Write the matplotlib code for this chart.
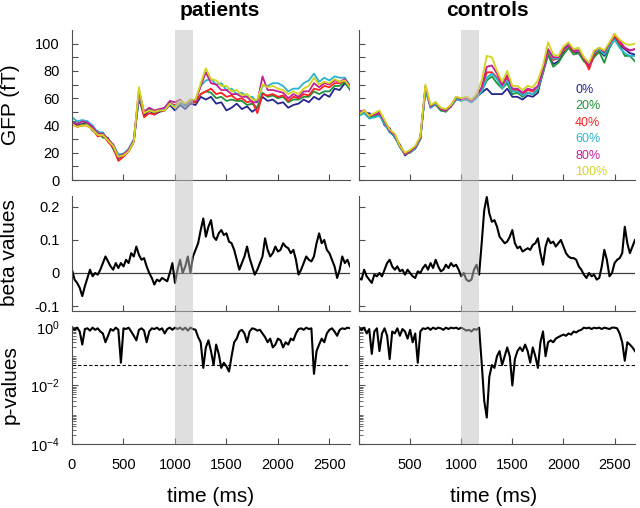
import matplotlib
matplotlib.use('Agg')
import matplotlib.pyplot as plt
import numpy as np
from matplotlib.patches import Rectangle
from matplotlib.transforms import blended_transform_factory
from matplotlib.ticker import FixedLocator, LogLocator, NullFormatter

plt.rcParams['font.family'] = ['Liberation Sans', 'DejaVu Sans']
plt.rcParams['mathtext.default'] = 'regular'

# sampling grids (ms)
t_gfp = np.arange(0, 2701, 50)
t_fine = np.arange(0, 2701, 25)

levels = ['0%', '20%', '40%', '60%', '80%', '100%']
colors = ['#25258f', '#1e9438', '#ff2222', '#2cb4cc', '#c41f98', '#d4d41e']

# GFP (fT), patients
gfp_pat_0 = [43, 40, 41, 43, 37, 35, 32, 30, 23, 16, 18,
             21, 28, 60, 47, 51, 48, 50, 51, 55, 51, 55,
             52, 56, 55, 61, 59, 61, 56, 57, 51, 53, 56,
             52, 54, 50, 53, 61, 58, 59, 56, 57, 53, 55,
             56, 59, 57, 61, 59, 63, 61, 67, 66, 71, 67]
gfp_pat_20 = [42, 43, 40, 42, 36, 36, 31, 31, 23, 17, 19,
              22, 29, 62, 49, 52, 49, 52, 52, 57, 53, 57,
              54, 57, 57, 63, 65, 64, 60, 61, 58, 59, 58,
              58, 55, 56, 53, 64, 61, 62, 60, 61, 57, 59,
              59, 61, 61, 65, 63, 65, 65, 69, 69, 72, 66]
gfp_pat_40 = [41, 39, 40, 40, 37, 32, 33, 28, 24, 14, 17,
              21, 28, 63, 46, 49, 48, 51, 51, 56, 55, 57,
              56, 57, 57, 63, 65, 67, 63, 64, 61, 62, 59,
              60, 57, 58, 49, 63, 62, 63, 61, 62, 58, 61,
              60, 63, 62, 67, 66, 69, 68, 71, 71, 73, 69]
gfp_pat_60 = [46, 43, 44, 43, 40, 35, 35, 29, 26, 19, 19,
              23, 30, 62, 50, 51, 50, 51, 52, 56, 54, 57,
              54, 58, 59, 69, 73, 74, 70, 71, 66, 67, 63,
              64, 61, 61, 57, 69, 69, 71, 71, 69, 65, 67,
              67, 71, 73, 78, 72, 75, 73, 76, 75, 75, 69]
gfp_pat_80 = [43, 41, 43, 42, 39, 34, 34, 30, 26, 17, 19,
              22, 29, 66, 50, 53, 51, 52, 53, 58, 57, 59,
              55, 59, 58, 69, 79, 71, 70, 66, 66, 63, 63,
              61, 61, 57, 57, 76, 66, 66, 65, 64, 60, 63,
              61, 65, 65, 71, 68, 71, 70, 73, 72, 74, 69]
gfp_pat_100 = [41, 39, 40, 40, 37, 33, 33, 29, 25, 17, 18,
               21, 28, 68, 49, 51, 50, 51, 51, 56, 53, 58,
               56, 59, 59, 71, 82, 74, 73, 69, 69, 65, 66,
               62, 63, 59, 59, 70, 68, 69, 67, 66, 63, 65,
               63, 67, 69, 75, 70, 72, 71, 74, 72, 73, 68]

# GFP (fT), controls
gfp_con_0 = [51, 49, 49, 46, 50, 40, 38, 31, 26, 18, 21,
             23, 30, 68, 53, 56, 51, 51, 54, 59, 59, 59,
             57, 61, 64, 67, 63, 63, 63, 67, 61, 61, 59,
             62, 61, 64, 80, 92, 85, 87, 93, 97, 94, 93,
             88, 83, 91, 95, 91, 97, 104, 99, 96, 93, 92]
gfp_con_20 = [48, 50, 46, 47, 48, 42, 35, 32, 24, 19, 20,
              23, 30, 66, 54, 55, 51, 50, 54, 60, 58, 60,
              57, 61, 65, 73, 76, 71, 67, 71, 63, 64, 61,
              64, 63, 66, 78, 92, 83, 86, 92, 97, 92, 93,
              87, 84, 90, 94, 86, 97, 103, 99, 91, 91, 87]
gfp_con_40 = [49, 51, 47, 48, 49, 43, 36, 33, 25, 19, 21,
              24, 31, 67, 54, 56, 52, 51, 55, 60, 59, 60,
              58, 62, 67, 79, 79, 75, 69, 75, 66, 66, 63,
              66, 65, 67, 80, 94, 88, 89, 95, 99, 94, 95,
              89, 81, 92, 96, 93, 99, 106, 100, 97, 95, 96]
gfp_con_60 = [47, 49, 45, 46, 47, 41, 35, 32, 24, 19, 21,
              23, 30, 66, 53, 56, 52, 51, 54, 60, 58, 59,
              57, 60, 65, 75, 78, 74, 67, 73, 65, 65, 62,
              64, 63, 67, 80, 95, 89, 89, 96, 100, 95, 95,
              90, 85, 93, 96, 92, 98, 103, 97, 93, 91, 91]
gfp_con_80 = [50, 51, 47, 48, 49, 43, 36, 33, 25, 19, 21,
              24, 31, 69, 54, 57, 52, 51, 54, 61, 59, 60,
              58, 62, 68, 83, 84, 78, 70, 77, 67, 67, 64,
              67, 66, 69, 81, 96, 90, 90, 96, 99, 95, 95,
              89, 84, 94, 97, 94, 100, 107, 102, 97, 95, 96]
gfp_con_100 = [48, 51, 47, 49, 51, 44, 37, 34, 25, 20, 22,
               25, 32, 70, 55, 57, 53, 52, 55, 61, 60, 61,
               59, 63, 73, 91, 90, 80, 72, 80, 69, 69, 66,
               69, 68, 73, 84, 101, 92, 91, 98, 101, 96, 97,
               90, 86, 95, 97, 95, 101, 107, 103, 100, 99, 100]

# beta values
beta_pat = [0.01, -0.02, -0.03, -0.045, -0.07, -0.04, -0.015, 0.01, -0.01, 0.0,
            -0.005, 0.01, 0.03, 0.05, 0.035, 0.02, 0.01, 0.03, 0.015, 0.03,
            0.02, 0.04, 0.03, 0.06, 0.05, 0.08, 0.055, 0.04, 0.045, 0.02,
            0.0, -0.015, -0.035, -0.02, -0.025, -0.015, -0.02, -0.025, 0.0, 0.03,
            -0.03, 0.01, 0.04, 0.0, 0.02, 0.05, 0.0, 0.05, 0.07, 0.09,
            0.13, 0.165, 0.11, 0.14, 0.16, 0.11, 0.10, 0.12, 0.13, 0.115,
            0.12, 0.095, 0.09, 0.07, 0.04, 0.01, 0.03, 0.05, 0.08, 0.045,
            0.02, -0.005, 0.01, 0.03, 0.05, 0.105, 0.07, 0.05, 0.06, 0.08,
            0.065, 0.07, 0.09, 0.08, 0.075, 0.06, 0.07, 0.04, -0.005, 0.01,
            0.03, 0.05, 0.04, 0.035, 0.05, 0.09, 0.12, 0.09, 0.10, 0.07,
            0.06, 0.04, 0.02, -0.015, 0.01, 0.05, 0.03, 0.04, 0.02]
beta_con = [-0.015, -0.02, 0.01, -0.01, -0.02, -0.03, -0.005, -0.01, 0.0, -0.01,
            0.01, 0.03, 0.04, 0.02, 0.01, 0.02, 0.005, 0.01, -0.005, 0.01,
            0.0, -0.01, -0.015, 0.005, 0.0, 0.015, 0.025, 0.01, 0.03, 0.015,
            0.04, 0.02, 0.005, 0.01, 0.025, 0.015, 0.03, 0.02, 0.025, 0.01,
            -0.01, 0.0, -0.02, -0.025, -0.02, 0.01, 0.025, -0.005, 0.09, 0.19,
            0.23, 0.18, 0.155, 0.16, 0.14, 0.11, 0.10, 0.09, 0.095, 0.11,
            0.13, 0.09, 0.075, 0.08, 0.065, 0.07, 0.075, 0.07, 0.085, 0.09,
            0.105, 0.06, 0.025, 0.08, 0.105, 0.09, 0.095, 0.08, 0.09, 0.10,
            0.08, 0.06, 0.05, 0.045, 0.045, 0.04, 0.02, 0.01, -0.005, -0.015,
            0.0, -0.01, -0.005, -0.02, -0.015, 0.02, 0.07, 0.04, -0.01, 0.0,
            0.03, 0.04, 0.045, 0.06, 0.14, 0.09, 0.06, 0.08, 0.10]

# p-values
p_pat = [0.9, 0.8, 0.95, 0.7, 0.25, 0.85, 0.9, 0.75, 0.95, 0.8,
         0.9, 0.7, 0.6, 0.3, 0.5, 0.85, 0.75, 0.95, 0.8, 0.06,
         0.9, 0.85, 0.95, 0.7, 0.5, 0.35, 0.8, 0.9, 0.75, 0.3,
         0.7, 0.9, 0.85, 0.95, 0.8, 0.9, 0.6, 0.85, 0.95, 0.8,
         0.95, 0.85, 0.95, 0.8, 0.95, 0.75, 0.95, 0.85, 0.8, 0.45,
         0.3, 0.04, 0.2, 0.35, 0.15, 0.05, 0.25, 0.12, 0.04, 0.06,
         0.045, 0.03, 0.1, 0.3, 0.4, 0.7, 0.8, 0.6, 0.3, 0.7,
         0.9, 0.85, 0.75, 0.8, 0.6, 0.45, 0.3, 0.4, 0.2, 0.25,
         0.4, 0.35, 0.2, 0.3, 0.25, 0.4, 0.35, 0.6, 0.85, 0.9,
         0.8, 0.95, 0.85, 0.9, 0.025, 0.15, 0.25, 0.4, 0.3, 0.6,
         0.8, 0.9, 0.7, 0.5, 0.8, 0.9, 0.85, 0.95, 0.9]
p_con = [0.9, 0.8, 0.95, 0.6, 0.85, 0.12, 0.7, 0.9, 0.15, 0.6,
         0.9, 0.5, 0.08, 0.7, 0.6, 0.9, 0.5, 0.85, 0.7, 0.4,
         0.8, 0.3, 0.6, 0.06, 0.7, 0.9, 0.85, 0.95, 0.8, 0.95,
         0.85, 0.95, 0.9, 0.8, 0.95, 0.85, 0.95, 0.9, 0.95, 0.85,
         0.95, 0.85, 0.75, 0.8, 0.7, 0.85, 0.8, 0.95, 0.06, 0.003,
         0.0008, 0.02, 0.05, 0.04, 0.1, 0.15, 0.05, 0.1, 0.2, 0.1,
         0.01, 0.08, 0.15, 0.2, 0.15, 0.25, 0.15, 0.06, 0.2, 0.1,
         0.04, 0.3, 0.7, 0.1, 0.3, 0.35, 0.3, 0.4, 0.45, 0.5,
         0.55, 0.5, 0.6, 0.55, 0.7, 0.65, 0.75, 0.8, 0.95, 0.9,
         0.95, 0.85, 0.95, 0.9, 0.95, 0.85, 0.95, 0.9, 0.85, 0.95,
         0.95, 0.9, 0.6, 0.3, 0.07, 0.3, 0.25, 0.2, 0.15]

gfp_pat = [gfp_pat_0, gfp_pat_20, gfp_pat_40, gfp_pat_60, gfp_pat_80, gfp_pat_100]
gfp_con = [gfp_con_0, gfp_con_20, gfp_con_40, gfp_con_60, gfp_con_80, gfp_con_100]

band = (1000, 1175)
W, H = 640, 508
fig = plt.figure(figsize=(6.4, 5.08), dpi=100)

def add_ax(x0, x1, y0, y1):
    ax = fig.add_axes([x0 / W, 1 - y1 / H, (x1 - x0) / W, (y1 - y0) / H])
    ax.set_facecolor('none')
    for s in ['top', 'right']:
        ax.spines[s].set_visible(False)
    for s in ['left', 'bottom']:
        ax.spines[s].set_color('#505050')
    ax.tick_params(direction='in', length=4, color='#505050', labelsize=10.5,
                   which='both')
    ax.tick_params(axis='x', pad=10)
    ax.tick_params(axis='y', pad=9)
    ax.set_xlim(0, 2700)
    ax.set_xticks([0, 500, 1000, 1500, 2000, 2500])
    return ax

cols = [(72, 350), (359, 635)]
rows = [(30, 180), (196, 311), (326, 444)]

for ci, (x0, x1) in enumerate(cols):
    gfp = gfp_pat if ci == 0 else gfp_con
    beta = beta_pat if ci == 0 else beta_con
    pv = p_pat if ci == 0 else p_con

    # GFP
    ax1 = add_ax(x0, x1, *rows[0])
    for vals, c in zip(gfp, colors):
        ax1.plot(t_gfp, vals, color=c, lw=1.3)
    ax1.set_ylim(0, 110)
    ax1.set_yticks(range(0, 101, 10))
    ax1.set_xticklabels([])
    if ci == 0:
        ax1.set_yticklabels([str(v) if v % 20 == 0 else '' for v in range(0, 101, 10)])
    else:
        ax1.set_yticklabels([])

    # beta
    ax2 = add_ax(x0, x1, *rows[1])
    ax2.axhline(0, color='#404040', lw=0.9)
    ax2.plot(t_fine, beta, color='black', lw=1.5)
    ax2.set_ylim(-0.115, 0.233)
    ax2.set_yticks([-0.1, 0, 0.1, 0.2])
    ax2.set_xticklabels([])
    if ci == 0:
        ax2.set_yticklabels(['-0.1', '0', '0.1', '0.2'])
    else:
        ax2.set_yticklabels([])

    # p-values
    ax3 = add_ax(x0, x1, *rows[2])
    ax3.set_yscale('log')
    ax3.axhline(0.05, color='black', lw=0.8, ls=(0, (3, 2)))
    ax3.plot(t_fine, pv, color='black', lw=1.5)
    ax3.set_ylim(1e-4, 1.08)
    ax3.yaxis.set_major_locator(FixedLocator([1e-4, 1e-2, 1]))
    ax3.yaxis.set_minor_locator(LogLocator(base=10, subs=np.arange(1, 10), numticks=20))
    ax3.yaxis.set_minor_formatter(NullFormatter())
    ax3.tick_params(which='minor', length=3)
    ax3.set_xlim(0, 2700)
    if ci == 0:
        ax3.set_yticklabels(['$10^{-4}$', '$10^{-2}$', '$10^{0}$'])
        ax3.set_xticklabels(['0', '500', '1000', '1500', '2000', '2500'])
    else:
        ax3.set_yticklabels([])
        ax3.set_xticklabels(['', '500', '1000', '1500', '2000', '2500'])

    # shaded window over all three rows
    tr = blended_transform_factory(ax3.transData, fig.transFigure)
    fig.add_artist(Rectangle((band[0], 1 - rows[2][1] / H), band[1] - band[0],
                             (rows[2][1] - rows[0][0]) / H, transform=tr,
                             facecolor='#c0c0c0', alpha=0.5, edgecolor='none',
                             zorder=5))

# titles and labels
fig.text(220 / W, 1 - 11 / H, 'patients', ha='center', va='center',
         fontsize=15, fontweight='bold')
fig.text(487 / W, 1 - 11 / H, 'controls', ha='center', va='center',
         fontsize=15, fontweight='bold')
fig.text(10 / W, 1 - 105 / H, 'GFP (fT)', rotation=90, ha='center', va='center', fontsize=15)
fig.text(10 / W, 1 - 253 / H, 'beta values', rotation=90, ha='center', va='center', fontsize=15)
fig.text(10 / W, 1 - 385 / H, 'p-values', rotation=90, ha='center', va='center', fontsize=15)
fig.text(211 / W, 1 - 497 / H, 'time (ms)', ha='center', va='center', fontsize=15)
fig.text(494 / W, 1 - 497 / H, 'time (ms)', ha='center', va='center', fontsize=15)

# legend as coloured text
for i, (lab, c) in enumerate(zip(levels, colors)):
    fig.text(575 / W, 1 - (90 + 16.4 * i) / H, lab, color=c, ha='left',
             va='center', fontsize=9)

fig.savefig('out.png', dpi=100)
